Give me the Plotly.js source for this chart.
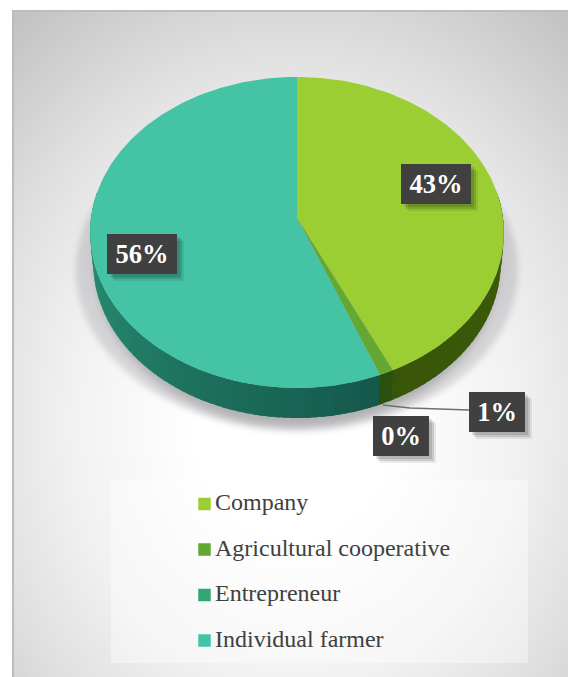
<!DOCTYPE html>
<html>
<head>
<meta charset="utf-8">
<script src="https://cdn.plot.ly/plotly-3.0.1.min.js"></script>
<style>
  html, body { margin: 0; padding: 0; background: #fff; overflow: hidden; }
  #panel {
    position: absolute; left: 12px; top: 10px; width: 556px; height: 667px;
    box-sizing: border-box;
    border-left: 2px solid #bcbcbc; border-top: 2px solid #bcbcbc;
    background: radial-gradient(ellipse 450px 530px at 280px 410px,
      #ffffff 0%, #ffffff 22%, #f1f1f1 50%, #e0e0e0 70%, #c0c0c0 100%);
  }
  /* Soft shadow cast by the disc on the panel */
  .shadow { position: absolute; border-radius: 50%; }
  #shadowWide { left: 76px; top: 110px; width: 442px; height: 320px; background: rgba(60,60,78,0.17); filter: blur(3px); }
  #shadowNear { left: 96px; top: 100px; width: 402px; height: 328px; background: rgba(0,0,0,0.2); filter: blur(5px); }
  #chart { position: absolute; left: 0; top: 0; width: 568px; height: 677px; }
</style>
</head>
<body>
<div id="panel"></div>
<div class="shadow" id="shadowWide"></div>
<div class="shadow" id="shadowNear"></div>
<div id="chart"></div>
<script>
// Share of respondents by type of business
const categories = ['Company', 'Agricultural cooperative', 'Entrepreneur', 'Individual farmer'];
const shares = [43, 1, 0, 56];
const faceColors = ['#9bce32', '#63a832', '#33a674', '#45c4a5'];
// Rim colours: [shade near the left/right edge, shade at the front]
const rimColors = [
  ['#3c5c08', '#37530a'],
  ['#29500c', '#29500c'],
  ['#1d6a52', '#1d6a52'],
  ['#2b9778', '#14564a']
];

// Disc geometry, in page pixels (the axes below map 1:1 onto the page)
const disc = { cx: 297, cy: 218, bx: 206, by: 154.2, tilt: 0.093, depth: 30, rimScale: 0.985 };
const rad = d => d * Math.PI / 180;

// Perspective projection of a point on the unit circle; deg runs clockwise from 12 o'clock
function project(deg, drop) {
  const X = Math.sin(rad(deg)), Y = -Math.cos(rad(deg));
  const w = 1 - disc.tilt * Y;
  const s = drop ? disc.rimScale : 1;
  return [disc.cx + s * disc.bx * X / w, disc.cy + disc.by * Y / w + (drop ? disc.depth : 0)];
}
function hex(c) { return [1, 3, 5].map(i => parseInt(c.substr(i, 2), 16)); }
function mix(a, b, t) {
  const A = hex(a), B = hex(b);
  return 'rgb(' + A.map((v, i) => Math.round(v + (B[i] - v) * t)).join(',') + ')';
}
function range(a, b, step) {
  const out = [];
  for (let d = a; d < b; d += step) out.push(d);
  out.push(b);
  return out;
}

const traces = [];
const polygon = (pts, color) => traces.push({
  type: 'scatter', mode: 'lines', fill: 'toself', fillcolor: color,
  x: pts.map(p => p[0]), y: pts.map(p => p[1]),
  line: { width: 0 }, hoverinfo: 'skip', showlegend: false
});

// Slice angles from the shares
const total = shares.reduce((a, b) => a + b, 0);
let start = 0;
const slices = shares.map(v => {
  const a = start, b = start + v / total * 360;
  start = b;
  return [a, b];
});

// Front rim of the disc, in short overlapping bands so the shading can vary along it
slices.forEach((s, i) => {
  const a = Math.max(s[0], 80), b = Math.min(s[1], 280);
  if (b <= a) return;
  const stops = range(a, b, 2);
  for (let k = 0; k < stops.length - 1; k++) {
    const d0 = stops[k], d1 = stops[k + 1];
    const t = Math.min(1, Math.abs(((d0 + d1) / 2 - 280)) / 125);
    const col = i === 3 ? mix(rimColors[i][0], rimColors[i][1], t)
                        : mix(rimColors[i][0], rimColors[i][1], (d0 - 80) / 100);
    const reach = Math.min(d1 + 1.5, 280);
    polygon([project(d0), project(reach), project(reach, true), project(d0, true)], col);
  }
});

// Top face of the disc
slices.forEach((s, i) => {
  if (s[1] <= s[0]) return;
  const pts = [[disc.cx, disc.cy]].concat(range(s[0], s[1], 1).map(d => project(d)));
  pts.push([disc.cx, disc.cy]);
  polygon(pts, faceColors[i]);
});

// Leader line for the 1% label
traces.push({
  type: 'scatter', mode: 'lines', x: [383, 410, 469], y: [405, 408, 410],
  line: { color: '#6f6f6f', width: 1.4 }, hoverinfo: 'skip', showlegend: false
});

// Key: swatch plus label for each category
const keyX = 204.5, keyY = 504, keyPitch = 45.5, keyTextX = 215;
categories.forEach((name, i) => {
  const y = keyY + i * keyPitch;
  traces.push({
    type: 'scatter', mode: 'markers', x: [keyX], y: [y],
    marker: { symbol: 'square', size: 12.5, color: faceColors[i] },
    hoverinfo: 'skip', showlegend: false
  });
  traces.push({
    type: 'scatter', mode: 'text', x: [keyTextX], y: [y],
    text: [name], textposition: 'middle right',
    textfont: { family: 'Liberation Serif', size: 24, color: '#404040' },
    hoverinfo: 'skip', showlegend: false
  });
});

// Value labels: dark boxes with a soft offset shadow
const labelCenters = [[436, 184], [497, 412], [401, 436], [142, 254]];
const labelWidths = [70, 56, 56, 70];
const labelHeight = 40;
const shapes = [{
  type: 'rect', layer: 'below', xref: 'x', yref: 'y', x0: 111, x1: 528, y0: 480, y1: 663,
  fillcolor: 'rgba(255,255,255,0.38)', line: { width: 0 }
}];
const annotations = [];
shares.forEach((v, i) => {
  const c = labelCenters[i], w = labelWidths[i];
  [[3, 0.12], [5, 0.12], [7, 0.08]].forEach(o => shapes.push({
    type: 'rect', layer: 'above', xref: 'x', yref: 'y',
    x0: c[0] - w / 2 + o[0], x1: c[0] + w / 2 + o[0],
    y0: c[1] - labelHeight / 2 + o[0], y1: c[1] + labelHeight / 2 + o[0],
    fillcolor: 'rgba(0,0,0,' + o[1] + ')', line: { width: 0 }
  }));
  annotations.push({
    x: c[0], y: c[1], xref: 'x', yref: 'y', text: '<b>' + v + '%</b>', showarrow: false,
    xanchor: 'center', yanchor: 'middle', width: w, height: labelHeight,
    bgcolor: '#404040', borderpad: 0, borderwidth: 0,
    font: { family: 'Liberation Serif', size: 26.5, color: '#ffffff' }
  });
});

const layout = {
  width: 568, height: 677,
  margin: { l: 0, r: 0, t: 0, b: 0 },
  paper_bgcolor: 'rgba(0,0,0,0)', plot_bgcolor: 'rgba(0,0,0,0)',
  xaxis: { range: [0, 568], visible: false, fixedrange: true },
  yaxis: { range: [677, 0], visible: false, fixedrange: true },
  showlegend: false, shapes: shapes, annotations: annotations
};
Plotly.newPlot('chart', traces, layout, { displayModeBar: false, staticPlot: true });
</script>
</body>
</html>
